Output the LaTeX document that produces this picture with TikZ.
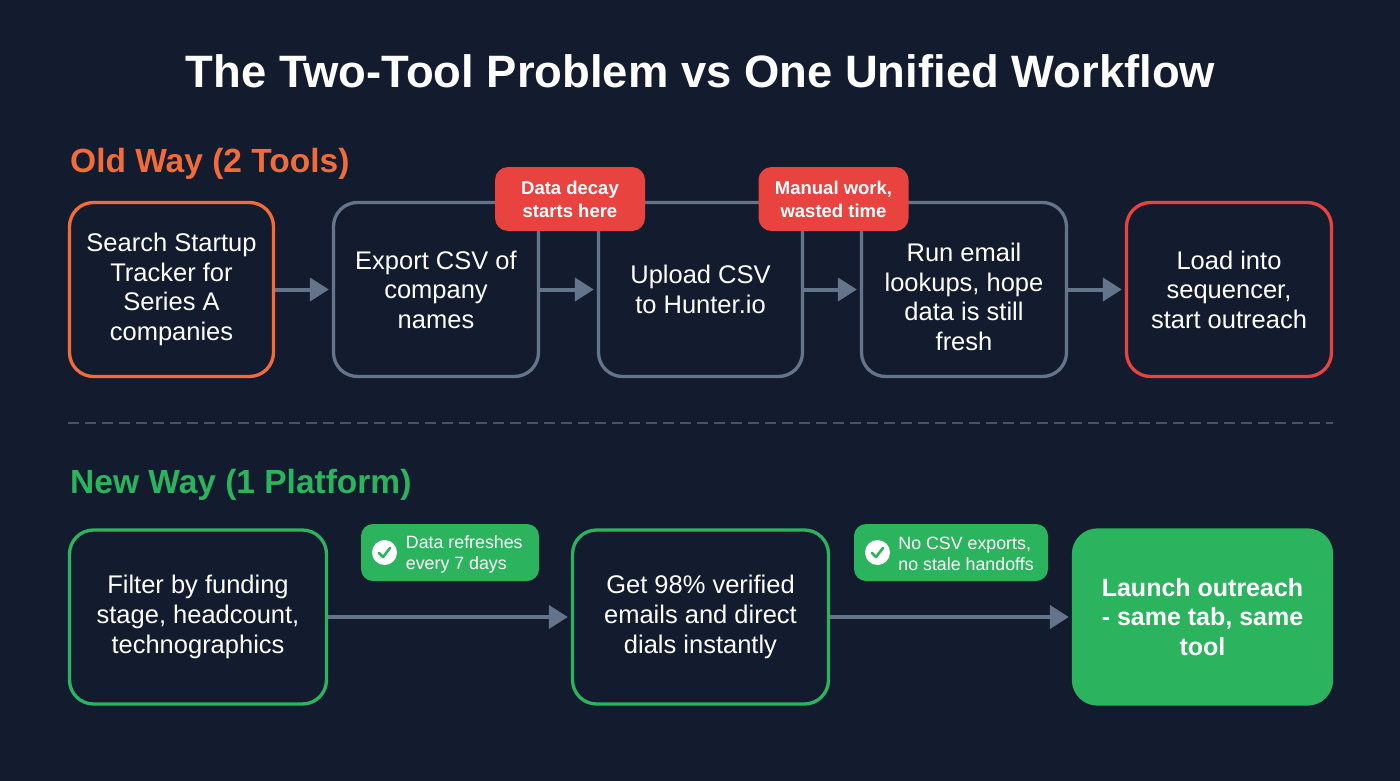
\documentclass[tikz,border=0pt]{standalone}
\usepackage{fontspec}
\setmainfont{Liberation Sans}
\usetikzlibrary{arrows.meta,positioning,calc}
\definecolor{pagebg}{HTML}{131B2E}
\definecolor{oldorange}{HTML}{F26C3A}
\definecolor{slateline}{HTML}{64748B}
\definecolor{dashline}{HTML}{475264}
\definecolor{alertred}{HTML}{E8433F}
\definecolor{newgreen}{HTML}{2BB45D}
\tikzset{
  flowbox/.style={draw=slateline,line width=3.3,rounded corners=24,minimum height=174,
    align=center,text=white,font=\fontsize{25.5}{29.6}\selectfont},
  flowarrow/.style={draw=slateline,line width=4,-{Triangle[length=19,width=23]},shorten >=3},
  redbadge/.style={fill=alertred,rounded corners=13,minimum width=150,minimum height=64,
    align=center,text=white,font=\fontsize{18.5}{23}\selectfont\bfseries},
  greenbadge/.style={fill=newgreen,rounded corners=12,minimum height=57},
  badgetext/.style={align=left,text=white,inner sep=0,yshift=-1.5,font=\fontsize{17.8}{21}\selectfont},
  checkdot/.style={circle,fill=white,minimum size=25,inner sep=0},
  checkmark/.style={draw=newgreen,line width=2.6,line cap=round,line join=round},
  heading/.style={anchor=west,inner sep=0,font=\fontsize{33.5}{38}\selectfont\bfseries}
}
\begin{document}
\begin{tikzpicture}[x=1pt,y=-1pt]
  % background
  \fill[pagebg] (0,0) rectangle (1400,781);
  \useasboundingbox (0,0) rectangle (1400,781);

  % title and section headings
  \node[text=white,font=\fontsize{45.4}{54}\selectfont\bfseries] (title) at (700.5,71) {The Two-Tool Problem vs One Unified Workflow};
  \node[heading,text=oldorange] (oldhead) at (70,164) {Old Way (2 Tools)};
  \node[heading,text=newgreen] (newhead) at (70,485) {New Way (1 Platform)};

  % old way boxes
  \node[flowbox,draw=oldorange,minimum width=204] (search) at (171.5,289.5) {Search Startup\\Tracker for\\Series A\\companies};
  \node[flowbox,minimum width=205] (export) at (436,289.5) {Export CSV of\\company\\names};
  \node[flowbox,minimum width=204] (upload) at (700.5,289.5) {Upload CSV\\to Hunter.io};
  \node[flowbox,minimum width=205] (lookup) at (964,289.5) {};
  \node[text=white,align=center,font=\fontsize{25.5}{29.6}\selectfont] (lookuptxt) at (964,297) {Run email\\lookups, hope\\data is still\\fresh};
  \node[flowbox,draw=alertred,minimum width=205] (load) at (1229,289.5) {Load into\\sequencer,\\start outreach};

  \draw[flowarrow] (search) -- (export);
  \draw[flowarrow] (export) -- (upload);
  \draw[flowarrow] (upload) -- (lookup);
  \draw[flowarrow] (lookup) -- (load);

  % red badges sit over the box tops
  \node[redbadge] (decay) at (570,199) {Data decay\\starts here};
  \node[redbadge] (manual) at (833.5,199) {Manual work,\\wasted time};

  % divider
  \coordinate (divl) at (68,423);
  \coordinate (divr) at (1333,423);
  \draw[dashline,line width=2,dash pattern=on 11 off 6] (divl) -- (divr);

  % new way boxes
  \node[flowbox,draw=newgreen,minimum width=257] (filter) at (198,617) {Filter by funding\\stage, headcount,\\technographics};
  \node[flowbox,draw=newgreen,minimum width=256] (verify) at (700.5,617) {Get 98\% verified\\emails and direct\\dials instantly};
  \node[flowbox,draw=newgreen,fill=newgreen,minimum width=258,font=\fontsize{25}{29.6}\selectfont\bfseries] (launch) at (1202.5,617) {Launch outreach\\- same tab, same\\tool};

  \draw[flowarrow] (filter) -- (verify);
  \draw[flowarrow] (verify) -- (launch);

  % green badges
  \node[greenbadge,minimum width=178] (refresh) at (450,552.5) {};
  \node[checkdot,right=11 of refresh.west] (refreshdot) {};
  \draw[checkmark] ($(refreshdot)+(-5.5,0.5)$) -- ($(refreshdot)+(-1.5,4.5)$) -- ($(refreshdot)+(5.5,-4.5)$);
  \node[badgetext,right=8.5 of refreshdot] (refreshtxt) {Data refreshes\\every 7 days};

  \node[greenbadge,minimum width=194] (nocsv) at (951,552.5) {};
  \node[checkdot,right=11 of nocsv.west] (nocsvdot) {};
  \draw[checkmark] ($(nocsvdot)+(-5.5,0.5)$) -- ($(nocsvdot)+(-1.5,4.5)$) -- ($(nocsvdot)+(5.5,-4.5)$);
  \node[badgetext,right=8 of nocsvdot] (nocsvtxt) {No CSV exports,\\no stale handoffs};
\end{tikzpicture}
\end{document}
